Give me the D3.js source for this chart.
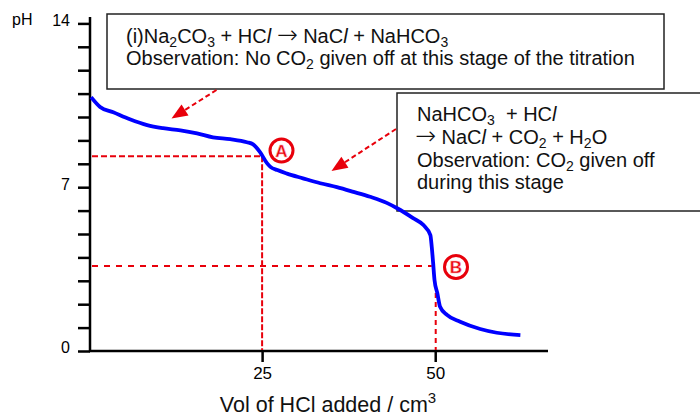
<!DOCTYPE html>
<html>
<head>
<meta charset="utf-8">
<script src="https://cdn.jsdelivr.net/npm/d3@7"></script>
<style>
body{margin:0;background:#fff;}
svg{display:block;font-family:"Liberation Sans",Arial,sans-serif;}
text{white-space:pre;}
</style>
</head>
<body>
<svg id="chart" width="700" height="417"></svg>
<script>
// titration curve: volume of HCl (cm3) and pH
const vol=[0.3,1.6,3.5,5.9,8.4,10.7,13.2,15.6,17.9,20.4,22.8,23.7,24.7,25.7,26.2,27.2,28.6,30.9,33.4,35.8,38.2,40.6,43.0,44.5,46.8,48.3,49.3,49.5,49.7,49.9,50.3,50.7,51.7,53.6,56.5,58.9,62.3];
const pH=[10.85,10.43,10.2,9.9,9.65,9.52,9.43,9.3,9.13,9.05,8.92,8.83,8.5,8.03,7.87,7.73,7.58,7.38,7.17,7.0,6.8,6.59,6.33,6.1,5.68,5.38,4.95,4.45,3.76,3.03,2.48,1.89,1.54,1.25,0.94,0.78,0.68];
const yTicks=[0,1,2,3,4,5,6,7,8,9,10,11,12,13,14];
const yLabels=[0,7,14];
const xTicks=[25,50];
// equivalence points A and B
const eqPoints=[{name:"A",vol:25,pH:8.32},{name:"B",vol:50,pH:3.63}];

const svg=d3.select("#chart");
const x=d3.scaleLinear().domain([0,66]).range([89,546]);
const y=d3.scaleLinear().domain([0,14]).range([351,23.4]);

const red="#e8000b";

// text boxes
const box1=svg.append("g");
box1.append("rect").attr("x",107).attr("y",14).attr("width",557).attr("height",75)
  .attr("fill","#fff").attr("stroke","#222").attr("stroke-width",1.5);

const box2=svg.append("g");
box2.append("rect").attr("x",397).attr("y",93).attr("width",310).attr("height",118)
  .attr("fill","#fff").attr("stroke","#222").attr("stroke-width",1.5);

// write a line made of parts: [text, "sub"|"it"|"arr"|null, dy]
const writeLine=(g,x0,y0,parts)=>{
  let t=g.append("text").attr("x",x0).attr("y",y0).attr("font-size",20).attr("fill","#111");
  parts.forEach((p)=>{
    let s=t.append("tspan").text(p[0]);
    if(p[1]=="sub") s.attr("font-size",14).attr("dy",4);
    if(p[1]=="it") s.attr("font-style","italic");
    if(p[1]=="arr") s.attr("font-family","DejaVu Sans").attr("font-weight",200).attr("font-size",25);
    if(p[2]) s.attr("dy",p[2]);
  });
}

writeLine(box1,126,43,[["(i)Na"],["2","sub"],["CO",null,-4],["3","sub"],[" + HC",null,-4],["l","it"],[" "],["\u2192","arr"],[" NaC"],["l","it"],[" + NaHCO"],["3","sub"]]);
writeLine(box1,126,65,[["Observation: No CO"],["2","sub"],[" given off at this stage of the titration",null,-4]]);
writeLine(box2,417,121,[["NaHCO"],["3","sub"],["  + HC",null,-4],["l","it"]]);
writeLine(box2,415,144,[["\u2192","arr"],[" NaC"],["l","it"],[" + CO"],["2","sub"],[" + H",null,-4],["2","sub"],["O",null,-4]]);
writeLine(box2,417,166.5,[["Observation: CO"],["2","sub"],[" given off",null,-4]]);
writeLine(box2,417,188.5,[["during this stage"]]);

// axes
const yAxis=d3.axisLeft(y).tickValues(yTicks).tickSize(12).tickPadding(8)
  .tickFormat((d)=>yLabels.includes(d)?d:"");
const gy=svg.append("g").attr("transform","translate(90,0)").call(yAxis);
gy.select(".domain").remove();
gy.selectAll(".tick line").attr("stroke","#000").attr("stroke-width",2.5);
gy.selectAll(".tick text").attr("font-size",16).attr("fill","#000").attr("x",-20).attr("dy","0.12em");
svg.append("line").attr("x1",90).attr("x2",90).attr("y1",17).attr("y2",352)
  .attr("stroke","#000").attr("stroke-width",2.5);

const xAxis=d3.axisBottom(x).tickValues(xTicks).tickSize(11).tickPadding(5);
const gx=svg.append("g").attr("transform","translate(0,351)").call(xAxis);
gx.select(".domain").remove();
gx.selectAll(".tick line").attr("stroke","#000").attr("stroke-width",2.5);
gx.selectAll(".tick text").attr("font-size",17).attr("fill","#000");
svg.append("line").attr("x1",89).attr("x2",548).attr("y1",351).attr("y2",351)
  .attr("stroke","#000").attr("stroke-width",2.5);

svg.append("text").attr("x",12).attr("y",25).attr("font-size",16).text("pH");

let xl=svg.append("text").attr("x",328).attr("y",412).attr("font-size",21.5).attr("text-anchor","middle").attr("fill","#111");
xl.append("tspan").text("Vol of HCl added / cm");
xl.append("tspan").text("3").attr("font-size",15).attr("dy",-9);

// dashed guide lines
const eqA=eqPoints[0],eqB=eqPoints[1];
const guide=(x1,y1,x2,y2,dash)=>svg.append("line").attr("x1",x1).attr("y1",y1).attr("x2",x2).attr("y2",y2)
  .attr("stroke",red).attr("stroke-width",2).attr("stroke-dasharray",dash);
guide(92,y(eqA.pH),x(eqA.vol),y(eqA.pH),"6,3");
guide(x(eqA.vol),y(eqA.pH),x(eqA.vol),350,"6,2");
guide(92,y(eqB.pH),x(49.5),y(eqB.pH),"6,6");
guide(x(eqB.vol)+0.5,y(2.48),x(eqB.vol)+0.5,350,"5,4");

// curve
const pts=vol.map((v,i)=>[v,pH[i]]);
svg.append("path").datum(pts)
  .attr("d",d3.line().x((d)=>x(d[0])).y((d)=>y(d[1])).curve(d3.curveMonotoneX))
  .attr("fill","none").attr("stroke","#0000ff").attr("stroke-width",3.8);

// circled letters
const labelPos={A:[281.5,150.5],B:[456,267]};
eqPoints.forEach((p)=>{
  let [cx,cy]=labelPos[p.name];
  svg.append("circle").attr("cx",cx).attr("cy",cy).attr("r",11.5)
    .attr("fill","#fff").attr("stroke",red).attr("stroke-width",3);
  svg.append("text").attr("x",cx).attr("y",cy+6).attr("text-anchor","middle")
    .attr("font-size",17).attr("font-weight","bold").attr("fill",red)
    .attr("stroke","#ffb0b0").attr("stroke-width",0.6).text(p.name);
});

// arrows from the boxes
const arrow=(x1,y1,x2,y2)=>{
  let dx=x2-x1,dy=y2-y1,len=Math.sqrt(dx*dx+dy*dy);
  let ux=dx/len,uy=dy/len,hl=16,hw=6.5;
  let bx=x2-ux*hl,by=y2-uy*hl;
  svg.append("line").attr("x1",x1).attr("y1",y1).attr("x2",bx+ux*2).attr("y2",by+uy*2)
    .attr("stroke",red).attr("stroke-width",2).attr("stroke-dasharray","5,3");
  svg.append("path")
    .attr("d",`M${x2},${y2}L${bx-uy*hw},${by+ux*hw}L${bx+uy*hw},${by-ux*hw}Z`)
    .attr("fill",red);
}
arrow(216.5,90,171.5,118.5);
arrow(396,129,331.5,171);
</script>
</body>
</html>
